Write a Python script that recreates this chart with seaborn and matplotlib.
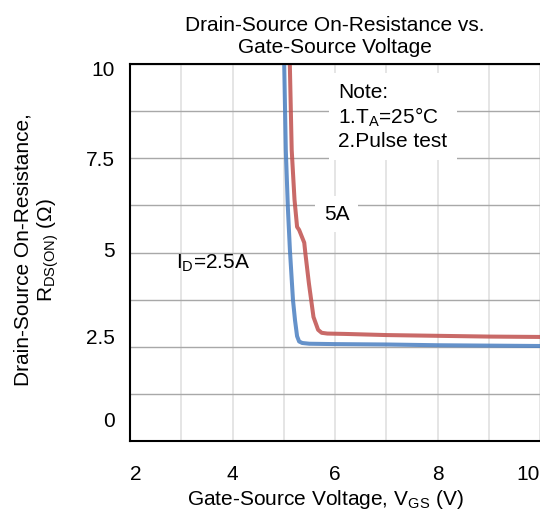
import matplotlib
matplotlib.use("Agg")
import matplotlib.pyplot as plt
import pandas as pd
import seaborn as sns
from matplotlib.ticker import FixedLocator, MultipleLocator

# I_D = 2.5 A
vgs_2p5a = [5.00, 5.01, 5.04, 5.08, 5.12, 5.18, 5.22, 5.26, 5.30, 5.36, 5.5, 6.0, 7.0, 8.0, 9.0, 10.0]
rds_2p5a = [10.5, 9.9, 7.72, 6.2, 5.07, 3.74, 3.2, 2.78, 2.64, 2.60, 2.58, 2.57, 2.56, 2.54, 2.53, 2.52]

# I_D = 5 A
vgs_5a = [5.11, 5.12, 5.155, 5.21, 5.26, 5.30, 5.40, 5.42, 5.49, 5.58, 5.67, 5.74, 5.85, 6.2, 7.0, 8.0, 9.0, 10.0]
rds_5a = [10.5, 9.9, 7.72, 6.4, 5.68, 5.6, 5.26, 5.0, 4.19, 3.29, 2.95, 2.87, 2.85, 2.84, 2.81, 2.79, 2.77, 2.76]

x_ticks = [2, 4, 6, 8, 10]
y_tick_labels = ["0", "2.5", "5", "7.5", "10"]
series_names = ["2.5A", "5A"]

df = pd.concat([
    pd.DataFrame({"Vgs": vgs_2p5a, "Rds": rds_2p5a, "Id": series_names[0]}),
    pd.DataFrame({"Vgs": vgs_5a, "Rds": rds_5a, "Id": series_names[1]}),
])

sns.set_theme(style="white")
plt.rcParams["font.family"] = ["Liberation Sans", "DejaVu Sans"]
plt.rcParams["mathtext.fontset"] = "custom"
plt.rcParams["mathtext.rm"] = "Liberation Sans"
plt.rcParams["mathtext.it"] = "Liberation Sans"
plt.rcParams["text.color"] = "black"
plt.rcParams["axes.labelcolor"] = "black"

fig = plt.figure(figsize=(5.4, 5.15), dpi=100)
ax = fig.add_axes([130 / 540, 74 / 515, 410 / 540, 377 / 515])

sns.lineplot(
    data=df, x="Vgs", y="Rds", hue="Id",
    palette={"2.5A": "#4a7fc1", "5A": "#c0504d"},
    estimator=None, sort=False, linewidth=2.9, alpha=0.85,
    legend=False, ax=ax,
)

ax.set_xlim(2, 10)
ax.set_ylim(0, 10)

# grid: vertical every 1 V, horizontal every 1.25
ax.xaxis.set_major_locator(FixedLocator(x_ticks))
ax.xaxis.set_minor_locator(MultipleLocator(1))
ax.yaxis.set_major_locator(FixedLocator([0.57, 2.78, 5.08, 7.5, 9.89]))
ax.yaxis.set_minor_locator(MultipleLocator(1.25))
ax.yaxis.remove_overlapping_locs = False
ax.set_yticklabels(y_tick_labels)
ax.grid(which="both", axis="x", color="#e3e3e3", linewidth=1.3)
ax.grid(which="minor", axis="y", color="#a8a8a8", linewidth=1.0)
ax.grid(which="major", axis="y", visible=False)
ax.set_axisbelow(True)

ax.tick_params(axis="both", which="both", length=0, labelsize=15, colors="black")
ax.tick_params(axis="x", pad=17)
ax.tick_params(axis="y", pad=11)
xl = ax.get_xticklabels()
xl[0].set_ha("left")
xl[-1].set_ha("right")

for side in ["left", "top", "bottom"]:
    ax.spines[side].set_color("black")
    ax.spines[side].set_linewidth(1.5)
ax.spines["right"].set_visible(False)

ax.set_title("Drain-Source On-Resistance vs.\nGate-Source Voltage", fontsize=15, pad=8)
ax.set_xlabel(r"Gate-Source Voltage, V$_\mathregular{GS}$ (V)", fontsize=15)
ax.xaxis.set_label_coords(0.476, -0.125)
ax.set_ylabel("Drain-Source On-Resistance,\n" + r"R$_\mathregular{DS(ON)}$ ($\Omega$)", fontsize=15)
ax.yaxis.set_label_coords(-0.168, 0.507)

ax.text(6.06, 9.5, "Note:\n" + r"1.T$_\mathregular{A}$=25°C" + "\n2.Pulse test",
        fontsize=15, va="top", ha="left",
        bbox=dict(boxstyle="square,pad=0.45", fc="white", ec="none"))
ax.text(6.03, 6.02, "5A", fontsize=15, va="center", ha="center",
        bbox=dict(boxstyle="square,pad=0.4", fc="white", ec="none"))
ax.text(3.63, 4.72, r"I$_\mathregular{D}$=2.5A", fontsize=15, va="center", ha="center")

fig.savefig("out.png", dpi=100)
plt.close(fig)
